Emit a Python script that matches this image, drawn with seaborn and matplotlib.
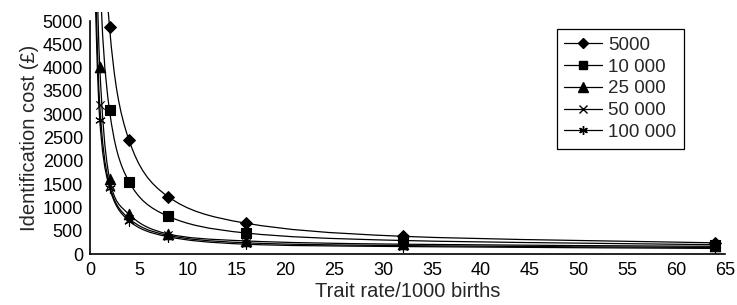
# identification cost vs trait rate, one smoothed curve per screening population

import numpy as np
import pandas as pd
import seaborn as sns
import matplotlib.pyplot as plt
from matplotlib.path import Path
from matplotlib.patches import PathPatch, Rectangle
from matplotlib.lines import Line2D

# trait rate per 1000 births (first point lies above the plotted range)
rates = [0.5, 1, 2, 4, 8, 16, 32, 64]

# identification cost (GBP)
cost_5000 = [19400, 9700, 4870, 2440, 1230, 660, 380, 240]
cost_10000 = [12300, 6150, 3080, 1550, 810, 450, 290, 200]
cost_25000 = [8000, 4020, 1620, 850, 430, 280, 210, 165]
cost_50000 = [6400, 3200, 1480, 760, 400, 240, 180, 140]
cost_100000 = [5760, 2880, 1420, 710, 370, 210, 160, 120]

series_names = ["5000", "10 000", "25 000", "50 000", "100 000"]
series_costs = [cost_5000, cost_10000, cost_25000, cost_50000, cost_100000]
marker_map = {"5000": "D", "10 000": "s", "25 000": "^",
              "50 000": "x", "100 000": (6, 2, 0)}
marker_size = {"5000": 6, "10 000": 6.5, "25 000": 7.5,
               "50 000": 6, "100 000": 7}

rows = []
for name, vals in zip(series_names, series_costs):
    for r, c in zip(rates, vals):
        rows.append({"rate": r, "cost": c, "series": name})
df = pd.DataFrame(rows)

sns.set_style("white")
plt.rcParams["font.family"] = ["Liberation Sans", "DejaVu Sans"]

fig = plt.figure(figsize=(7.37, 3.05), dpi=100)
ax = fig.add_axes([0.1221, 0.1672, 0.8616, 0.7639])


def smooth_path(xs, ys):
    # catmull-rom style bezier through the points (like spreadsheet smoothed lines)
    pts = np.column_stack([xs, ys]).astype(float)
    n = len(pts)
    verts = [pts[0]]
    codes = [Path.MOVETO]
    for i in range(n - 1):
        p0 = pts[i - 1] if i > 0 else pts[i]
        p1 = pts[i]
        p2 = pts[i + 1]
        p3 = pts[i + 2] if i + 2 < n else pts[i + 1]
        c1 = p1 + (p2 - p0) / 6.0
        c2 = p2 - (p3 - p1) / 6.0
        verts += [c1, c2, p2]
        codes += [Path.CURVE4] * 3
    return Path(verts, codes)


clip_rect = Rectangle((0, 0), 1, 1.04, transform=ax.transAxes)
for name, vals in zip(series_names, series_costs):
    patch = PathPatch(smooth_path(rates, vals), facecolor="none",
                      edgecolor="black", lw=0.9, transform=ax.transData)
    ax.add_patch(patch)
    patch.set_clip_path(clip_rect)

for name in series_names:
    sub = df[df["series"] == name]
    m = marker_map[name]
    filled = name in ("5000", "10 000", "25 000")
    sns.scatterplot(data=sub, x="rate", y="cost", ax=ax, marker=m,
                    s=marker_size[name] ** 2, color="black",
                    edgecolor="black" if filled else None,
                    linewidth=0.8, legend=False, zorder=3)

ax.set_xlim(0, 65)
ax.set_ylim(0, 5000)
ax.set_xticks(range(0, 66, 5))
ax.set_yticks(range(0, 5001, 500))
ax.tick_params(direction="in", length=9.5, width=0.9, colors="black",
               labelsize=13, pad=5)
ax.tick_params(axis="x", pad=6)
for side in ["top", "right"]:
    ax.spines[side].set_visible(False)
for side in ["left", "bottom"]:
    ax.spines[side].set_color("black")
    ax.spines[side].set_linewidth(1.2)

ax.set_xlabel("Trait rate/1000 births", fontsize=14.5, labelpad=2)
ax.set_ylabel("Identification cost (£)", fontsize=14.5, labelpad=3)

handles = [Line2D([], [], color="black", lw=0.9, marker=marker_map[n],
                  markersize=marker_size[n] * 0.9, markerfacecolor="black",
                  markeredgecolor="black") for n in series_names]
leg = ax.legend(handles, series_names, loc="upper left",
                bbox_to_anchor=(0.735, 0.965), fontsize=13.5, frameon=True,
                fancybox=False, edgecolor="black", framealpha=1,
                handlelength=2.0, handletextpad=0.35, labelspacing=0.25,
                borderpad=0.4, borderaxespad=0)
leg.get_frame().set_linewidth(0.9)

fig.savefig("out.png", dpi=100)
